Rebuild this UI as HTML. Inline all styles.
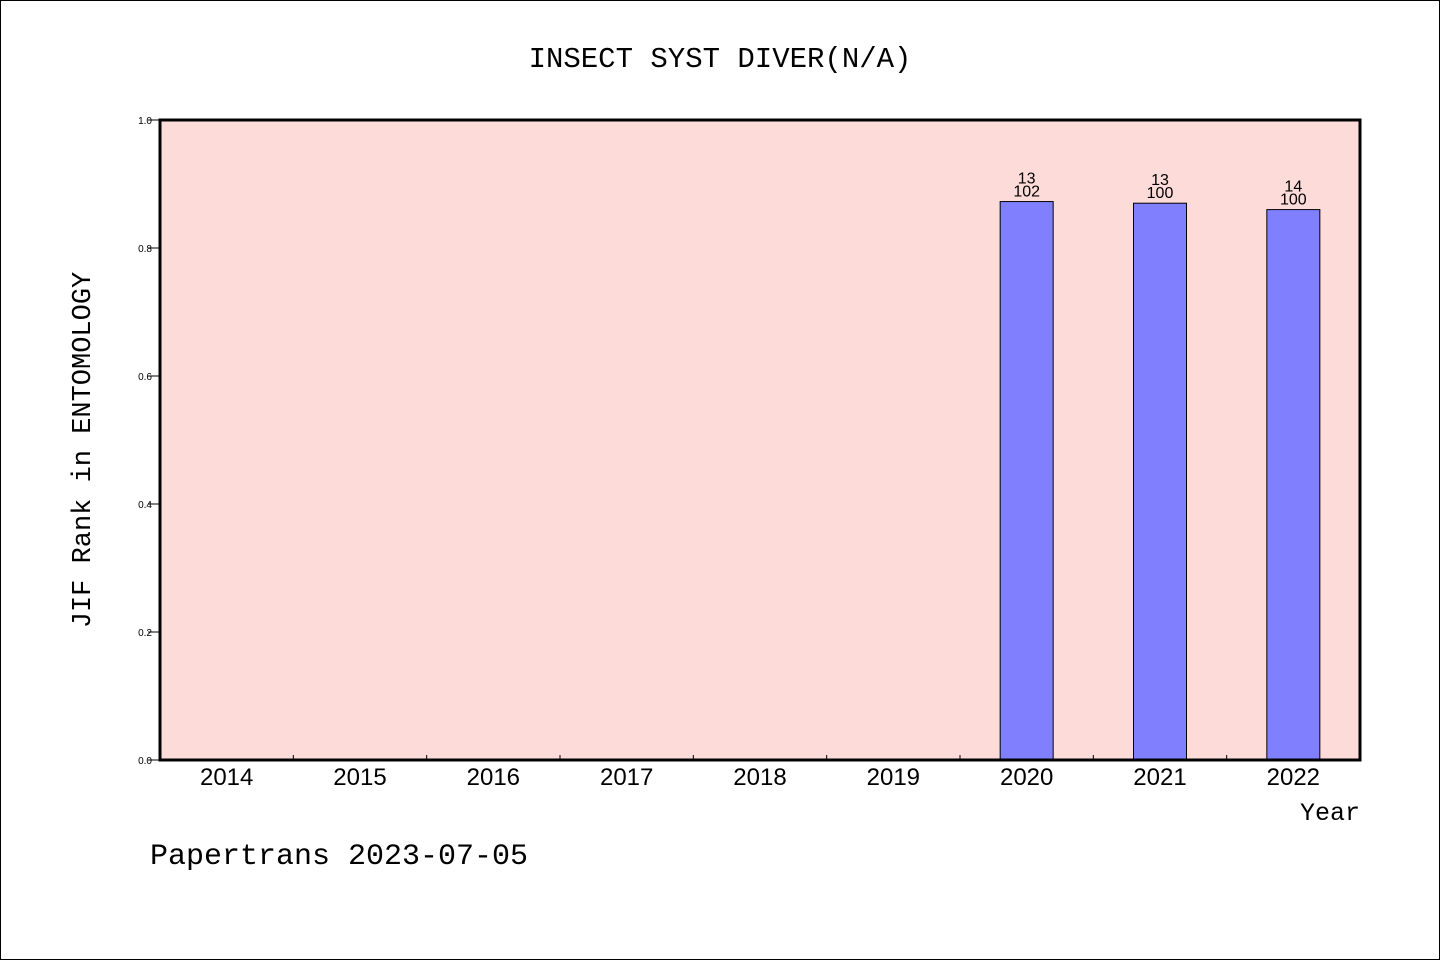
<!DOCTYPE html>
<html><head><meta charset="utf-8"><style>
body{margin:0;background:#fff}
svg{display:block}
</style></head><body>
<svg width="1440" height="960" xmlns="http://www.w3.org/2000/svg">
<rect x="0.5" y="0.5" width="1439" height="959" fill="#fff" stroke="#000"/>
<text x="720" y="67" text-anchor="middle" font-family="Liberation Mono, monospace" font-size="29">INSECT SYST DIVER(N/A)</text>
<rect x="160" y="120" width="1200" height="640" fill="#fddbd8"/>
<g id="yaxis"></g>
<g id="xaxis"></g>
<g id="bars"></g>
<rect x="160" y="120" width="1200" height="640" fill="none" stroke="#000" stroke-width="3"/>
<text transform="translate(90,450) rotate(-90)" text-anchor="middle" font-family="Liberation Mono, monospace" font-size="27">JIF Rank in ENTOMOLOGY</text>
<text x="1360" y="820" text-anchor="end" font-family="Liberation Mono, monospace" font-size="25">Year</text>
<text x="150" y="864" font-family="Liberation Mono, monospace" font-size="30">Papertrans 2023-07-05</text>
</svg>
<script>
const years=["2014","2015","2016","2017","2018","2019","2020","2021","2022"];
const ranks=[null,null,null,null,null,null,13,13,14];
const totals=[null,null,null,null,null,null,102,100,100];
const yTicks=["0.0","0.2","0.4","0.6","0.8","1.0"];
const NS="http://www.w3.org/2000/svg";
const X0=160,W=1200,Y0=760,H=640;
const bw=W/years.length;
const xc=i=>X0+bw*(i+0.5);
const ys=v=>Y0-v*H;
function mk(t,a,p){const e=document.createElementNS(NS,t);for(const k in a)e.setAttribute(k,a[k]);p.appendChild(e);return e;}
const ya=document.getElementById('yaxis'),xa=document.getElementById('xaxis'),bg=document.getElementById('bars');
yTicks.forEach(t=>{const y=ys(parseFloat(t));
const l=mk('line',{x1:148,x2:160,y1:y,y2:y,stroke:'#000'},ya);


const tx=mk('text',{x:152,y:y+4,'text-anchor':'end','font-family':'Liberation Sans, sans-serif','font-size':10},ya);
tx.textContent=t;

});
years.forEach((yr,i)=>{
if(i>0){const x=X0+bw*i;const l=mk('line',{x1:x,x2:x,y1:755,y2:760,stroke:'#000'},xa);

}
const tx=mk('text',{x:xc(i),y:785,'text-anchor':'middle','font-family':'Liberation Sans, sans-serif','font-size':24},xa);
tx.textContent=yr;


if(ranks[i]!=null){const v=1-ranks[i]/totals[i];const y=ys(v);
const r=mk('rect',{x:xc(i)-26.5,y:y,width:53,height:Y0-y,fill:'#8080ff',stroke:'#000'},bg);


const t1=mk('text',{x:xc(i),y:y-18,'text-anchor':'middle','font-family':'Liberation Sans, sans-serif','font-size':16},bg);
t1.textContent=ranks[i];


const t2=mk('text',{x:xc(i),y:y-5,'text-anchor':'middle','font-family':'Liberation Sans, sans-serif','font-size':16},bg);
t2.textContent=totals[i];

}
});
</script>
</body></html>
